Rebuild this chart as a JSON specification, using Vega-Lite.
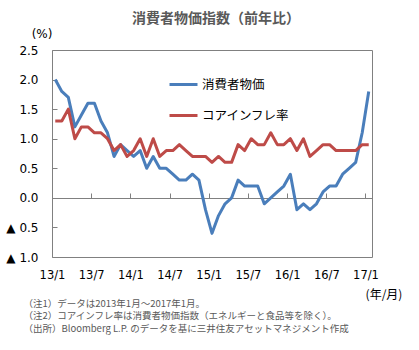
{
  "$schema": "https://vega.github.io/schema/vega-lite/v6.json",
  "width": 320,
  "height": 207,
  "autosize": {"type": "none"},
  "padding": {"left": 52, "top": 50, "right": 47, "bottom": 93},
  "background": "white",
  "config": {
    "view": {"stroke": "#808080", "strokeWidth": 1},
    "font": "DejaVu Sans"
  },
  "title": {
    "text": "消費者物価指数（前年比）",
    "font": "Noto Sans CJK JP",
    "fontSize": 14,
    "fontWeight": "bold",
    "color": "#595959",
    "anchor": "middle",
    "frame": "group",
    "offset": 1,
    "dx": 4
  },
  "data": {
    "values": [
      {"month": 0, "series": "消費者物価", "value": 2.0},
      {"month": 1, "series": "消費者物価", "value": 1.8},
      {"month": 2, "series": "消費者物価", "value": 1.7},
      {"month": 3, "series": "消費者物価", "value": 1.2},
      {"month": 4, "series": "消費者物価", "value": 1.4},
      {"month": 5, "series": "消費者物価", "value": 1.6},
      {"month": 6, "series": "消費者物価", "value": 1.6},
      {"month": 7, "series": "消費者物価", "value": 1.3},
      {"month": 8, "series": "消費者物価", "value": 1.1},
      {"month": 9, "series": "消費者物価", "value": 0.7},
      {"month": 10, "series": "消費者物価", "value": 0.9},
      {"month": 11, "series": "消費者物価", "value": 0.8},
      {"month": 12, "series": "消費者物価", "value": 0.7},
      {"month": 13, "series": "消費者物価", "value": 0.8},
      {"month": 14, "series": "消費者物価", "value": 0.5},
      {"month": 15, "series": "消費者物価", "value": 0.7},
      {"month": 16, "series": "消費者物価", "value": 0.5},
      {"month": 17, "series": "消費者物価", "value": 0.5},
      {"month": 18, "series": "消費者物価", "value": 0.4},
      {"month": 19, "series": "消費者物価", "value": 0.3},
      {"month": 20, "series": "消費者物価", "value": 0.3},
      {"month": 21, "series": "消費者物価", "value": 0.4},
      {"month": 22, "series": "消費者物価", "value": 0.3},
      {"month": 23, "series": "消費者物価", "value": -0.2},
      {"month": 24, "series": "消費者物価", "value": -0.6},
      {"month": 25, "series": "消費者物価", "value": -0.3},
      {"month": 26, "series": "消費者物価", "value": -0.1},
      {"month": 27, "series": "消費者物価", "value": 0.0},
      {"month": 28, "series": "消費者物価", "value": 0.3},
      {"month": 29, "series": "消費者物価", "value": 0.2},
      {"month": 30, "series": "消費者物価", "value": 0.2},
      {"month": 31, "series": "消費者物価", "value": 0.2},
      {"month": 32, "series": "消費者物価", "value": -0.1},
      {"month": 33, "series": "消費者物価", "value": 0.0},
      {"month": 34, "series": "消費者物価", "value": 0.1},
      {"month": 35, "series": "消費者物価", "value": 0.2},
      {"month": 36, "series": "消費者物価", "value": 0.4},
      {"month": 37, "series": "消費者物価", "value": -0.2},
      {"month": 38, "series": "消費者物価", "value": -0.1},
      {"month": 39, "series": "消費者物価", "value": -0.2},
      {"month": 40, "series": "消費者物価", "value": -0.1},
      {"month": 41, "series": "消費者物価", "value": 0.1},
      {"month": 42, "series": "消費者物価", "value": 0.2},
      {"month": 43, "series": "消費者物価", "value": 0.2},
      {"month": 44, "series": "消費者物価", "value": 0.4},
      {"month": 45, "series": "消費者物価", "value": 0.5},
      {"month": 46, "series": "消費者物価", "value": 0.6},
      {"month": 47, "series": "消費者物価", "value": 1.1},
      {"month": 48, "series": "消費者物価", "value": 1.8},
      {"month": 0, "series": "コアインフレ率", "value": 1.3},
      {"month": 1, "series": "コアインフレ率", "value": 1.3},
      {"month": 2, "series": "コアインフレ率", "value": 1.5},
      {"month": 3, "series": "コアインフレ率", "value": 1.0},
      {"month": 4, "series": "コアインフレ率", "value": 1.2},
      {"month": 5, "series": "コアインフレ率", "value": 1.2},
      {"month": 6, "series": "コアインフレ率", "value": 1.1},
      {"month": 7, "series": "コアインフレ率", "value": 1.1},
      {"month": 8, "series": "コアインフレ率", "value": 1.0},
      {"month": 9, "series": "コアインフレ率", "value": 0.8},
      {"month": 10, "series": "コアインフレ率", "value": 0.9},
      {"month": 11, "series": "コアインフレ率", "value": 0.7},
      {"month": 12, "series": "コアインフレ率", "value": 0.8},
      {"month": 13, "series": "コアインフレ率", "value": 1.0},
      {"month": 14, "series": "コアインフレ率", "value": 0.7},
      {"month": 15, "series": "コアインフレ率", "value": 1.0},
      {"month": 16, "series": "コアインフレ率", "value": 0.7},
      {"month": 17, "series": "コアインフレ率", "value": 0.8},
      {"month": 18, "series": "コアインフレ率", "value": 0.8},
      {"month": 19, "series": "コアインフレ率", "value": 0.9},
      {"month": 20, "series": "コアインフレ率", "value": 0.8},
      {"month": 21, "series": "コアインフレ率", "value": 0.7},
      {"month": 22, "series": "コアインフレ率", "value": 0.7},
      {"month": 23, "series": "コアインフレ率", "value": 0.7},
      {"month": 24, "series": "コアインフレ率", "value": 0.6},
      {"month": 25, "series": "コアインフレ率", "value": 0.7},
      {"month": 26, "series": "コアインフレ率", "value": 0.6},
      {"month": 27, "series": "コアインフレ率", "value": 0.6},
      {"month": 28, "series": "コアインフレ率", "value": 0.9},
      {"month": 29, "series": "コアインフレ率", "value": 0.8},
      {"month": 30, "series": "コアインフレ率", "value": 1.0},
      {"month": 31, "series": "コアインフレ率", "value": 0.9},
      {"month": 32, "series": "コアインフレ率", "value": 0.9},
      {"month": 33, "series": "コアインフレ率", "value": 1.1},
      {"month": 34, "series": "コアインフレ率", "value": 0.9},
      {"month": 35, "series": "コアインフレ率", "value": 0.9},
      {"month": 36, "series": "コアインフレ率", "value": 1.0},
      {"month": 37, "series": "コアインフレ率", "value": 0.8},
      {"month": 38, "series": "コアインフレ率", "value": 1.0},
      {"month": 39, "series": "コアインフレ率", "value": 0.7},
      {"month": 40, "series": "コアインフレ率", "value": 0.8},
      {"month": 41, "series": "コアインフレ率", "value": 0.9},
      {"month": 42, "series": "コアインフレ率", "value": 0.9},
      {"month": 43, "series": "コアインフレ率", "value": 0.8},
      {"month": 44, "series": "コアインフレ率", "value": 0.8},
      {"month": 45, "series": "コアインフレ率", "value": 0.8},
      {"month": 46, "series": "コアインフレ率", "value": 0.8},
      {"month": 47, "series": "コアインフレ率", "value": 0.9},
      {"month": 48, "series": "コアインフレ率", "value": 0.9}
    ]
  },
  "resolve": {"axis": {"x": "independent"}},
  "encoding": {
    "y": {
      "field": "value",
      "type": "quantitative",
      "scale": {"domain": [-1, 2.5], "nice": false, "zero": false},
      "axis": {
        "values": [-1, -0.5, 0, 0.5, 1, 1.5, 2, 2.5],
        "labelExpr": "datum.value < 0 ? '▲ ' + format(-datum.value, '.1f') : format(datum.value, '.1f')",
        "domain": false,
        "grid": false,
        "ticks": true,
        "tickSize": -5,
        "tickColor": "#808080",
        "labelPadding": 19,
        "labelFont": "DejaVu Sans",
        "labelFontSize": 12,
        "labelColor": "#000000",
        "labelFlush": false,
        "labelOverlap": false,
        "title": "(%)",
        "titleFont": "DejaVu Sans",
        "titleFontSize": 12,
        "titleFontWeight": "normal",
        "titleColor": "#000000",
        "titleAngle": 0,
        "titleAlign": "center",
        "titleBaseline": "middle",
        "titleX": -10.5,
        "titleY": -17
      }
    },
    "color": {
      "field": "series",
      "type": "nominal",
      "scale": {"domain": ["消費者物価", "コアインフレ率"], "range": ["#4A7EBB", "#BE4B48"]},
      "legend": {
        "orient": "none",
        "legendX": 116,
        "legendY": 19,
        "title": null,
        "padding": 0,
        "symbolType": "stroke",
        "symbolSize": 784,
        "symbolStrokeWidth": 3,
        "labelFont": "Noto Sans CJK JP",
        "labelFontSize": 12.5,
        "labelColor": "#000000",
        "labelOffset": 3,
        "rowPadding": 9
      }
    }
  },
  "layer": [
    {
      "transform": [{"filter": "datum.series === '消費者物価'"}],
      "mark": {"type": "line", "strokeWidth": 3, "strokeJoin": "round"},
      "encoding": {
        "x": {
          "field": "month",
          "type": "quantitative",
          "scale": {"domain": [-0.5, 48.5], "nice": false, "zero": false},
          "axis": {
            "orient": "bottom",
            "values": [-0.5, 5.5, 11.5, 17.5, 23.5, 29.5, 35.5, 41.5, 47.5],
            "labelExpr": "(13 + floor(round(datum.value + 0.5) / 12)) + '/' + (round(datum.value + 0.5) % 12 + 1)",
            "ticks": false,
            "domain": false,
            "grid": false,
            "labelPadding": 12,
            "labelFont": "DejaVu Sans",
            "labelFontSize": 11.5,
            "labelColor": "#000000",
            "labelFlush": false,
            "labelOverlap": false,
            "title": [
              "（注1）データは2013年1月～2017年1月。",
              "（注2）コアインフレ率は消費者物価指数（エネルギーと食品等を除く）。",
              "（出所）Bloomberg L.P. のデータを基に三井住友アセットマネジメント作成"
            ],
            "titleFont": "Noto Sans CJK JP",
            "titleFontSize": 9.5,
            "titleFontWeight": "normal",
            "titleColor": "#595959",
            "titleAlign": "left",
            "titleBaseline": "top",
            "titleAngle": 0,
            "titleX": -29,
            "titleY": 41,
            "titleLineHeight": 12.5
          }
        }
      }
    },
    {
      "transform": [{"filter": "datum.series === 'コアインフレ率'"}],
      "mark": {"type": "line", "strokeWidth": 3, "strokeJoin": "round"},
      "encoding": {
        "x": {
          "field": "month",
          "type": "quantitative",
          "axis": {
            "orient": "top",
            "offset": -148,
            "values": [5.5, 11.5, 17.5, 23.5, 29.5, 35.5, 41.5, 47.5],
            "labels": false,
            "ticks": true,
            "tickSize": 5,
            "tickColor": "#808080",
            "domain": true,
            "domainColor": "#808080",
            "grid": false,
            "title": "(年/月)",
            "titleFont": "Noto Sans CJK JP",
            "titleFontSize": 12,
            "titleFontWeight": "normal",
            "titleColor": "#000000",
            "titleAngle": 0,
            "titleAlign": "center",
            "titleBaseline": "middle",
            "titleX": 331.5,
            "titleY": 96
          }
        }
      }
    }
  ]
}
